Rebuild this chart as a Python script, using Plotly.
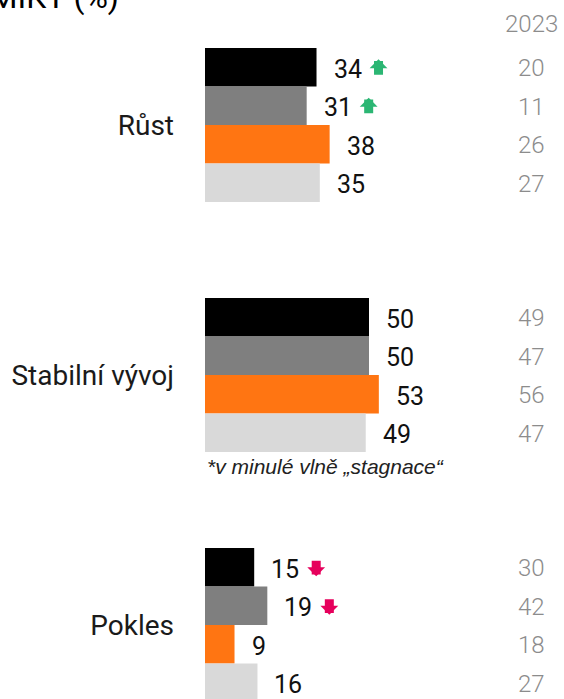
import plotly.graph_objects as go

categories = ["Růst", "Stabilní vývoj", "Pokles"]
series_names = ["Série 1", "Série 2", "Série 3", "Série 4"]
series_values = [
    [34, 50, 15],
    [31, 50, 19],
    [38, 53, 9],
    [35, 49, 16],
]
values_2023 = [
    [20, 49, 30],
    [11, 47, 42],
    [26, 56, 18],
    [27, 47, 27],
]
# trend arrows: (series index, category index) -> "up"/"down"
trends = {(0, 0): "up", (1, 0): "up", (0, 2): "down", (1, 2): "down"}
colors = ["#000000", "#7f7f7f", "#ff7512", "#d9d9d9"]
title_text = "OČEKÁVANÝ VÝVOJ EKONOMIKY (%)"
year_label = "2023"
note_text = "*v minulé vlně „stagnace“"

W, H = 564, 699
L = 205
PW = W - L
BAR_PX = 38.5


def px_x(p):
    return (p - L) / PW


def px_y(p):
    return 1 - p / H


fig = go.Figure()
for i, (name, vals) in enumerate(zip(series_names, series_values)):
    fig.add_trace(go.Bar(
        y=categories, x=vals, name=name, orientation="h",
        marker=dict(color=colors[i], line=dict(width=0)),
        hoverinfo="x",
    ))

annotations = []
for i, vals in enumerate(series_values):
    shift = -(i - 1.5) * BAR_PX
    for j, v in enumerate(vals):
        annotations.append(dict(
            x=v, y=categories[j], xref="x", yref="y", text=str(v),
            showarrow=False, xanchor="left", yanchor="middle",
            xshift=15, yshift=shift - 2,
            font=dict(family="Roboto", size=25, color="#111111"),
        ))
        t = trends.get((i, j))
        if t is not None:
            up = t == "up"
            dx = 45 + 8.5 * len(str(v))
            annotations.append(dict(
                x=v, y=categories[j], xref="x", yref="y", text="",
                showarrow=True, arrowhead=1, arrowsize=0.33, arrowwidth=9,
                arrowcolor="#2bb673" if up else "#e6005c",
                ax=0, ay=17 if up else -17,
                xshift=dx, yshift=shift + (8 if up else -9),
            ))
        annotations.append(dict(
            x=px_x(531), y=categories[j], xref="paper", yref="y",
            text=str(values_2023[i][j]), showarrow=False,
            xanchor="center", yanchor="middle", yshift=shift - 1,
            font=dict(family="Roboto", size=24, color="#8c8c8c", weight=300),
        ))

annotations.append(dict(
    x=px_x(531), y=px_y(24), xref="paper", yref="paper", text=year_label,
    showarrow=False, xanchor="center", yanchor="middle",
    font=dict(family="Roboto", size=24, color="#8c8c8c", weight=300),
))
annotations.append(dict(
    x=px_x(205), y=px_y(466), xref="paper", yref="paper", text=note_text,
    showarrow=False, xanchor="left", yanchor="middle",
    font=dict(family="Liberation Sans", size=21, color="#222222", style="italic"),
))
annotations.append(dict(
    x=px_x(121), y=px_y(-3), xref="paper", yref="paper", text=title_text,
    showarrow=False, xanchor="right", yanchor="middle",
    font=dict(family="Roboto", size=32, color="#000000"),
))

fig.update_layout(
    width=W, height=H,
    margin=dict(l=L, r=0, t=0, b=0),
    paper_bgcolor="white", plot_bgcolor="white",
    barmode="group", bargap=0.384, bargroupgap=0,
    showlegend=False,
    xaxis=dict(range=[0, PW / 3.28], visible=False, fixedrange=True),
    yaxis=dict(
        type="category", categoryorder="array", categoryarray=categories,
        range=[2.296, -0.5], autorange=False,
        showgrid=False, zeroline=False, showline=False, ticks="",
        ticklabelstandoff=30,
        tickfont=dict(family="Roboto", size=28, color="#1a1a1a"),
    ),
    annotations=annotations,
)

fig.write_html("out.html", config={"displayModeBar": False},
               post_script="document.body.style.margin='0';")
